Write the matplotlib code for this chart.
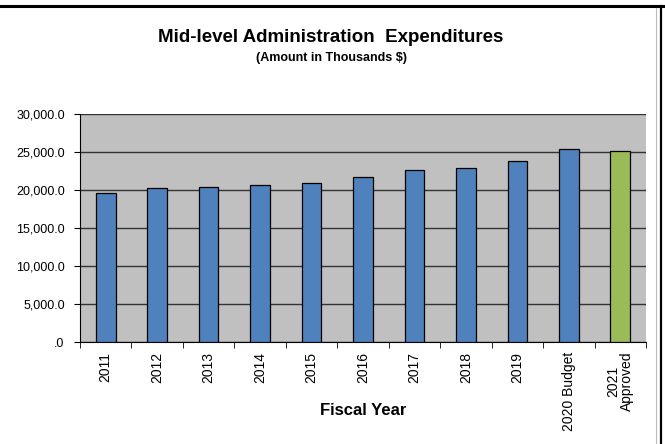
import matplotlib.pyplot as plt
from matplotlib.ticker import FuncFormatter

plt.rcParams["font.family"] = ["Liberation Sans", "DejaVu Sans"]

years = ["2011", "2012", "2013", "2014", "2015", "2016", "2017", "2018",
         "2019", "2020 Budget", "2021\nApproved"]
spending = [19600, 20300, 20350, 20600, 20900, 21700, 22600, 22900,
            23800, 25350, 25150]
bar_colors = ["#4F81BD"] * 10 + ["#9BBB59"]
y_ticks = [0, 5000, 10000, 15000, 20000, 25000, 30000]


def fmt_amount(value, _pos):
    if value == 0:
        return ".0"
    return f"{value:,.1f}"


fig = plt.figure(figsize=(6.65, 4.44), dpi=100)
ax = fig.add_axes([80 / 665, 1 - 342 / 444, 566 / 665, 228 / 444])

positions = list(range(len(years)))
ax.bar(positions, spending, width=0.38, color=bar_colors,
       edgecolor="black", linewidth=0.9, zorder=3)

ax.set_facecolor("#C0C0C0")
ax.set_xlim(-0.5, len(years) - 0.5)
ax.set_ylim(0, 30000)
ax.set_yticks(y_ticks)
ax.yaxis.set_major_formatter(FuncFormatter(fmt_amount))
ax.grid(True, axis="y", color="#333333", linewidth=1.0, zorder=1)

ax.set_xticks(positions)
ax.set_xticklabels(years, rotation=90, fontsize=10, linespacing=0.95)
ax.set_xticks([p + 0.5 for p in positions[:-1]] + [-0.5, len(years) - 0.5],
              minor=True)
ax.tick_params(axis="x", which="major", length=0, pad=7)
ax.tick_params(axis="x", which="minor", length=4, direction="out")
ax.tick_params(axis="y", length=4, direction="out", labelsize=9, pad=7)

for side in ("top", "right"):
    ax.spines[side].set_visible(False)
ax.spines["left"].set_color("black")
ax.spines["bottom"].set_color("black")

fig.text(363 / 665, 1 - 410 / 444, "Fiscal Year", ha="center", va="center",
         fontsize=12, fontweight="bold")

fig.text(0.498, 1 - 38 / 444, "Mid-level Administration  Expenditures",
         ha="center", va="center", fontsize=13.5, fontweight="bold")
fig.text(0.498, 1 - 58 / 444, "(Amount in Thousands $)",
         ha="center", va="center", fontsize=9, fontweight="bold")

# frame around the chart, as in the source screenshot
fig.add_artist(plt.Line2D([0, 1], [1 - 6.5 / 444] * 2, color="black",
                          linewidth=2.2, transform=fig.transFigure))
fig.add_artist(plt.Line2D([660.5 / 665] * 2, [0, 1 - 6.5 / 444], color="black",
                          linewidth=1.6, transform=fig.transFigure))
fig.add_artist(plt.Line2D([656 / 665] * 2, [0, 1 - 8 / 444], color="#BBBBBB",
                          linewidth=0.8, transform=fig.transFigure))

fig.savefig("out.png", dpi=100)
